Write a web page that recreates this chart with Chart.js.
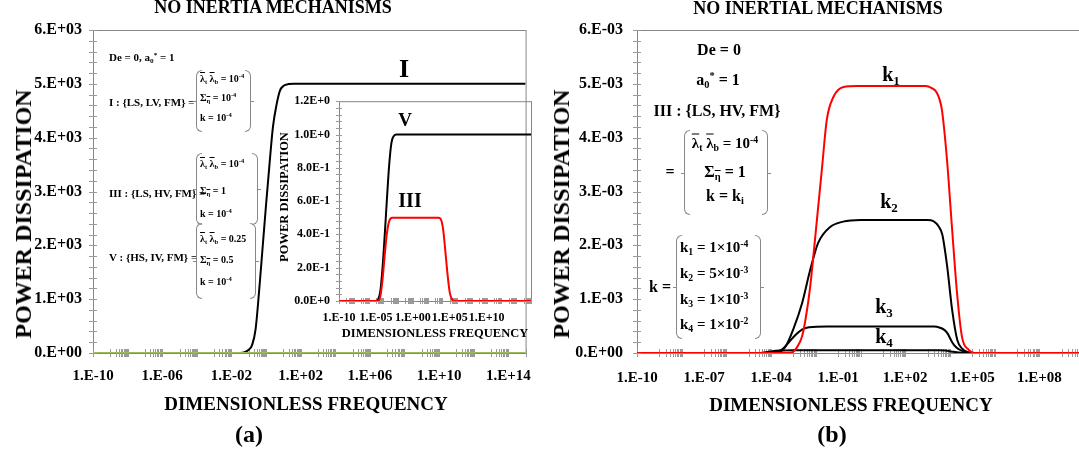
<!DOCTYPE html>
<html>
<head>
<meta charset="utf-8">
<script src="https://cdn.jsdelivr.net/npm/chart.js@4.4.0/dist/chart.umd.min.js"></script>
<style>
  body { margin: 0; width: 1079px; height: 454px; overflow: hidden; background: #fff; position: relative;
         font-family: "Liberation Serif", "Times New Roman", serif; font-weight: bold; color: #000; }
  canvas { position: absolute; }
  .t { position: absolute; white-space: nowrap; line-height: 1; transform: translate(-50%, -50%); }
  .l { position: absolute; white-space: nowrap; line-height: 1; transform: translateY(-50%); }
  .rot { transform: translate(-50%, -50%) rotate(-90deg); }
  .ov { text-decoration: overline; }
  sub, sup { font-size: 65%; line-height: 0; position: relative; vertical-align: baseline; }
  sup { top: -0.55em; }
  sub { top: 0.3em; }
  .brL, .brR { position: absolute; width: 5px; border: 1px solid #888; }
  .brL { border-right: none; border-radius: 6px 0 0 6px; }
  .brR { border-left: none; border-radius: 0 6px 6px 0; }
  .brL::before, .brR::before { content: ""; position: absolute; top: 50%; width: 4px; border-top: 1px solid #888; }
  .brL::before { left: -4px; }
  .brR::before { right: -4px; }
</style>
</head>
<body>
<canvas id="chartA" width="545" height="454" style="left:0;top:0"></canvas>
<canvas id="chartIn" width="259" height="260" style="left:281px;top:85px"></canvas>
<canvas id="chartB" width="545" height="454" style="left:545px;top:0"></canvas>

<!-- panel (a) texts -->
<div class="t" style="left:273px;top:7px;font-size:18px">NO INERTIA MECHANISMS</div>
<div class="t rot" style="left:23px;top:214px;font-size:24px">POWER DISSIPATION</div>
<div class="t" style="left:306px;top:403px;font-size:19px">DIMENSIONLESS FREQUENCY</div>
<div class="t" style="left:249px;top:434px;font-size:24px">(a)</div>

<div class="l" style="left:109px;top:57px;font-size:11px">De = 0, a<sub>0</sub><sup>*</sup> = 1</div>

<div class="l" style="left:109px;top:102px;font-size:11px">I : {LS, LV, FM} =</div>
<div class="brL" style="left:196px;top:70px;height:60px"></div>
<div class="l" style="left:200px;top:79px;font-size:10px"><span class="ov">λ</span><sub>t</sub> <span class="ov">λ</span><sub>b</sub> = 10<sup>-4</sup></div>
<div class="l" style="left:200px;top:98px;font-size:10px">Σ<sub class="ov">η</sub> = 10<sup>-4</sup></div>
<div class="l" style="left:200px;top:118px;font-size:10px">k = 10<sup>-4</sup></div>
<div class="brR" style="left:245px;top:70px;height:60px"></div>

<div class="l" style="left:109px;top:193px;font-size:11px">III : {LS, HV, FM} =</div>
<div class="brL" style="left:196px;top:153px;height:70px"></div>
<div class="l" style="left:200px;top:164px;font-size:10px"><span class="ov">λ</span><sub>t</sub> <span class="ov">λ</span><sub>b</sub> = 10<sup>-4</sup></div>
<div class="l" style="left:200px;top:191px;font-size:10px">Σ<sub class="ov">η</sub> = 1</div>
<div class="l" style="left:200px;top:214px;font-size:10px">k = 10<sup>-4</sup></div>
<div class="brR" style="left:252px;top:153px;height:70px"></div>

<div class="l" style="left:109px;top:257px;font-size:11px">V : {HS, IV, FM} =</div>
<div class="brL" style="left:196px;top:223px;height:74px"></div>
<div class="l" style="left:200px;top:239px;font-size:10px"><span class="ov">λ</span><sub>t</sub> <span class="ov">λ</span><sub>b</sub> = 0.25</div>
<div class="l" style="left:200px;top:260px;font-size:10px">Σ<sub class="ov">η</sub> = 0.5</div>
<div class="l" style="left:200px;top:282px;font-size:10px">k = 10<sup>-4</sup></div>
<div class="brR" style="left:250px;top:223px;height:74px"></div>

<div class="t" style="left:404px;top:69px;font-size:26px">I</div>
<div class="t" style="left:405px;top:119px;font-size:19px">V</div>
<div class="t" style="left:410px;top:200px;font-size:20px">III</div>

<!-- inset texts -->
<div class="t rot" style="left:284px;top:197px;font-size:12.5px">POWER DISSIPATION</div>
<div class="t" style="left:435px;top:333px;font-size:12.5px">DIMENSIONLESS FREQUENCY</div>

<!-- panel (b) texts -->
<div class="t" style="left:818px;top:8px;font-size:18px">NO INERTIAL MECHANISMS</div>
<div class="t rot" style="left:561px;top:214px;font-size:24px">POWER DISSIPATION</div>
<div class="t" style="left:851px;top:404px;font-size:19px">DIMENSIONLESS FREQUENCY</div>
<div class="t" style="left:832px;top:434px;font-size:24px">(b)</div>

<div class="t" style="left:719px;top:50px;font-size:16px">De = 0</div>
<div class="t" style="left:718px;top:80px;font-size:16px">a<sub>0</sub><sup>*</sup> = 1</div>
<div class="t" style="left:717px;top:111px;font-size:16px">III : {LS, HV, FM}</div>
<div class="t" style="left:670px;top:172px;font-size:16px">=</div>
<div class="brL" style="left:684px;top:130px;height:83px"></div>
<div class="t" style="left:725px;top:143px;font-size:15px"><span class="ov">λ</span><sub>t</sub> <span class="ov">λ</span><sub>b</sub> = 10<sup>-4</sup></div>
<div class="t" style="left:725px;top:172px;font-size:16px">Σ<sub class="ov">η</sub> = 1</div>
<div class="t" style="left:725px;top:196px;font-size:16px">k = k<sub>i</sub></div>
<div class="brR" style="left:762px;top:130px;height:83px"></div>

<div class="t" style="left:660px;top:287px;font-size:16px">k =</div>
<div class="brL" style="left:676px;top:235px;height:102px"></div>
<div class="l" style="left:680px;top:247px;font-size:15px">k<sub>1</sub> = 1×10<sup>-4</sup></div>
<div class="l" style="left:680px;top:273px;font-size:15px">k<sub>2</sub> = 5×10<sup>-3</sup></div>
<div class="l" style="left:680px;top:299px;font-size:15px">k<sub>3</sub> = 1×10<sup>-3</sup></div>
<div class="l" style="left:680px;top:324px;font-size:15px">k<sub>4</sub> = 1×10<sup>-2</sup></div>
<div class="brR" style="left:755px;top:235px;height:102px"></div>

<div class="t" style="left:891px;top:74px;font-size:20px">k<sub>1</sub></div>
<div class="t" style="left:889px;top:201px;font-size:20px">k<sub>2</sub></div>
<div class="t" style="left:884px;top:306px;font-size:20px">k<sub>3</sub></div>
<div class="t" style="left:884px;top:336px;font-size:20px">k<sub>4</sub></div>

<script>
const FONT = '"Liberation Serif", "Times New Roman", serif';

// ---- panel (a): case I ----
const freqI  = [1e-10, 0.01, 0.0316, 0.063, 0.1, 0.158, 0.251, 0.398, 0.631, 1, 1.58, 2.51, 3.98, 6.31, 10, 20, 40, 1e15];
const powerI = [0, 0, 0, 20, 60, 150, 450, 1150, 1950, 2750, 3500, 4200, 4600, 4870, 4960, 4995, 5000, 5000];
const freqZero  = [1e-10, 1e15];
const powerZero = [0, 0];
const xTicksA  = [1e-10, 1e-6, 1e-2, 1e2, 1e6, 1e10, 1e14];
const xLabelsA = ['1.E-10', '1.E-06', '1.E-02', '1.E+02', '1.E+06', '1.E+10', '1.E+14'];
const yLabelsA = ['0.E+00', '1.E+03', '2.E+03', '3.E+03', '4.E+03', '5.E+03', '6.E+03'];

// ---- inset: cases V and III ----
const freqV  = [1e-10, 1e-5, 2e-5, 4e-5, 7.9e-5, 1.58e-4, 3.16e-4, 6.3e-4, 1.26e-3, 2.5e-3, 6.3e-3, 1e16];
const powerV = [0, 0, 0.01, 0.06, 0.2, 0.4, 0.62, 0.82, 0.95, 0.99, 1.0, 1.0];
const freqIII  = [1e-10, 2e-5, 4e-5, 7.9e-5, 1.58e-4, 3.16e-4, 6.3e-4, 1.58e-3, 3160, 6310, 12600, 25100, 50100, 1e5, 2e5, 4e5, 1e16];
const powerIII = [0, 0, 0.03, 0.13, 0.28, 0.41, 0.48, 0.5, 0.5, 0.49, 0.43, 0.3, 0.16, 0.05, 0.01, 0, 0];
const xTicksIn  = [1e-10, 1e-5, 1, 1e5, 1e10];
const xLabelsIn = ['1.E-10', '1.E-05', '1.E+00', '1.E+05', '1.E+10'];
const yLabelsIn = ['0.0E+0', '2.0E-1', '4.0E-1', '6.0E-1', '8.0E-1', '1.0E+0', '1.2E+0'];

// ---- panel (b): k1..k4 ----
const freqK1  = [1e-10, 5e-4, 8.5e-4, 1.41e-3, 2.4e-3, 3.55e-3, 5.6e-3, 1.12e-2, 1.86e-2, 3.1e-2, 6.2e-2, 0.174, 0.69, 794, 1550, 2630, 4370, 7410, 12300, 20900, 34700, 69200, 126000, 1e10];
const powerK1 = [0, 0, 1e-5, 1e-4, 3e-4, 6.5e-4, 1.23e-3, 2.47e-3, 3.4e-3, 4.33e-3, 4.76e-3, 4.94e-3, 4.96e-3, 4.96e-3, 4.92e-3, 4.83e-3, 4.52e-3, 3.59e-3, 2.35e-3, 1.11e-3, 3e-4, 6e-5, 0, 0];
const freqK2  = [1e-10, 1.26e-4, 2.5e-4, 4.3e-4, 1e-3, 2.45e-3, 5.6e-3, 1.26e-2, 4.4e-2, 0.166, 1, 1000, 1820, 3160, 4570, 7590, 12600, 21400, 35500, 60300, 1e5, 1e10];
const powerK2 = [0, 0, 2e-5, 1.1e-4, 4.5e-4, 9.3e-4, 1.54e-3, 2.04e-3, 2.34e-3, 2.44e-3, 2.47e-3, 2.47e-3, 2.45e-3, 2.35e-3, 2.2e-3, 1.6e-3, 8e-4, 2.4e-4, 8e-5, 2e-5, 0, 0];
const freqK3  = [1e-10, 7.9e-5, 1.58e-4, 3.16e-4, 6.3e-4, 1.26e-3, 2.5e-3, 5e-3, 3.16e-2, 2000, 3550, 5620, 7940, 11200, 15800, 25100, 39800, 63100, 1e5, 1e10];
const powerK3 = [0, 0, 1.5e-5, 7e-5, 2e-4, 3.4e-4, 4.4e-4, 4.8e-4, 4.9e-4, 4.9e-4, 4.7e-4, 4.3e-4, 3.6e-4, 2.4e-4, 1.4e-4, 7e-5, 3e-5, 5e-6, 0, 0];
const freqK4  = [1e-10, 2.5e-5, 5e-5, 1e-4, 2.5e-4, 1e-3, 3160, 6310, 12600, 25100, 50100, 1e10];
const powerK4 = [0, 0, 1e-5, 3e-5, 4.5e-5, 5e-5, 5e-5, 4.5e-5, 2.5e-5, 8e-6, 0, 0];
const xTicksB  = [1e-10, 1e-7, 1e-4, 1e-1, 1e2, 1e5, 1e8];
const xLabelsB = ['1.E-10', '1.E-07', '1.E-04', '1.E-01', '1.E+02', '1.E+05', '1.E+08'];
const yLabelsB = ['0.E+00', '1.E-03', '2.E-03', '3.E-03', '4.E-03', '5.E-03', '6.E-03'];

const pts = (xs, ys) => xs.map((x, i) => ({ x, y: ys[i] }));

const line = (data, color, width) => ({
  data, borderColor: color, borderWidth: width, showLine: true, pointRadius: 0,
  cubicInterpolationMode: 'monotone', borderJoinStyle: 'round', fill: false
});

const logX = (min, max, ticks, labels, size, pad, h) => ({
  type: 'logarithmic', min, max,
  afterBuildTicks: s => { s.ticks = ticks.map(v => ({ value: v })); },
  afterFit: s => { s.height = h; },
  grid: { display: false, drawTicks: false }, border: { display: false },
  ticks: { autoSkip: false, maxRotation: 0, minRotation: 0, padding: pad, color: '#000',
           font: { family: FONT, size, weight: 'bold' }, callback: (v, i) => labels[i] }
});

const linY = (step, labels, size, pad, w) => ({
  type: 'linear', min: 0, max: step * (labels.length - 1),
  afterBuildTicks: s => { s.ticks = labels.map((_, i) => ({ value: i * step })); },
  afterFit: s => { s.width = w; },
  grid: { display: false, drawTicks: false }, border: { display: false },
  ticks: { padding: pad, color: '#000', font: { family: FONT, size, weight: 'bold' },
           callback: (v, i) => labels[i] }
});

// axis frame plus the excel-like tick marks
const frame = {
  id: 'frame',
  beforeDatasetsDraw(chart, args, o) {
    const { ctx, chartArea: a, scales: { x, y } } = chart;
    ctx.save();
    ctx.lineWidth = 1;
    ctx.strokeStyle = '#868686';
    ctx.strokeRect(a.left + 0.5, a.top + 0.5, a.right - a.left, a.bottom - a.top);
    ctx.strokeStyle = '#9a9a9a';
    ctx.beginPath();
    const lo = Math.round(Math.log10(x.min)), hi = Math.round(Math.log10(x.max));
    for (let m = lo; m <= hi; m++) {
      const ks = (m % 2 !== 0) ? [1, 2, 3, 4, 5, 6, 7, 8, 9] : [1];
      ks.forEach(k => {
        const v = k * Math.pow(10, m);
        if (v < x.min || v > x.max) return;
        const px = Math.round(x.getPixelForValue(v)) + 0.5;
        ctx.moveTo(px, a.bottom - o.t);
        ctx.lineTo(px, a.bottom + o.t);
      });
    }
    const n = Math.round((y.max - y.min) / o.yMinor);
    for (let i = 0; i <= n; i++) {
      const py = Math.round(y.getPixelForValue(y.min + i * o.yMinor)) + 0.5;
      ctx.moveTo(a.left - o.t, py);
      ctx.lineTo(a.left + o.t, py);
    }
    ctx.stroke();
    ctx.restore();
  }
};

const base = (padding) => ({
  responsive: false, animation: false,
  layout: { padding },
  plugins: { legend: { display: false }, tooltip: { enabled: false } }
});

new Chart(document.getElementById('chartA'), {
  type: 'scatter',
  data: { datasets: [
    line(pts(freqZero, powerZero), '#9bbb59', 2),
    line(pts(freqI, powerI), '#000', 2)
  ] },
  options: Object.assign(base({ top: 30, right: 8, left: 0, bottom: 0 }), {
    scales: {
      x: logX(1e-10, 1e15, xTicksA, xLabelsA, 15, 14, 101),
      y: linY(1000, yLabelsA, 16, 11, 93)
    },
    plugins: { legend: { display: false }, tooltip: { enabled: false }, frame: { t: 4, yMinor: 200 } }
  }),
  plugins: [frame]
});

new Chart(document.getElementById('chartIn'), {
  type: 'scatter',
  data: { datasets: [
    line(pts(freqIII, powerIII), '#ff0000', 2),
    line(pts(freqV, powerV), '#000', 2)
  ] },
  options: Object.assign(base({ top: 8, right: 9, left: 0, bottom: 0 }), {
    scales: {
      x: logX(1e-10, 1e16, xTicksIn, xLabelsIn, 12, 10, 44),
      y: linY(0.2, yLabelsIn, 12, 9, 58)
    },
    plugins: { legend: { display: false }, tooltip: { enabled: false }, frame: { t: 3, yMinor: 0.04 } }
  }),
  plugins: [frame]
});

new Chart(document.getElementById('chartB'), {
  type: 'scatter',
  data: { datasets: [
    line(pts(freqK1, powerK1), '#ff0000', 2),
    line(pts(freqK2, powerK2), '#000', 2),
    line(pts(freqK3, powerK3), '#000', 2),
    line(pts(freqK4, powerK4), '#000', 2)
  ] },
  options: Object.assign(base({ top: 30, right: 6, left: 0, bottom: 0 }), {
    scales: {
      x: logX(1e-10, 1e10, xTicksB, xLabelsB, 15, 16, 101),
      y: linY(0.001, yLabelsB, 16, 14, 92)
    },
    plugins: { legend: { display: false }, tooltip: { enabled: false }, frame: { t: 4, yMinor: 0.0002 } }
  }),
  plugins: [frame]
});
</script>
</body>
</html>
